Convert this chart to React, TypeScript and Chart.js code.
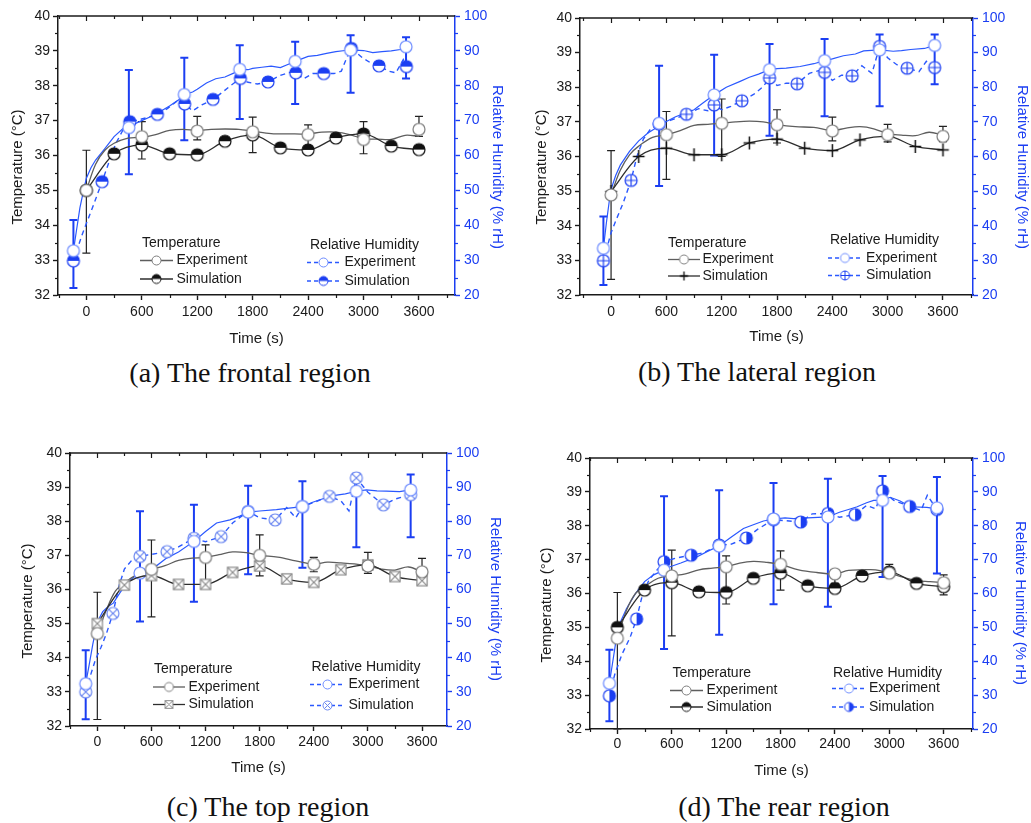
import React, { useEffect, useRef } from 'react';
import { Chart, registerables } from 'chart.js';

Chart.register(...registerables);

const SANS = '"Liberation Sans", Arimo, Arial, Helvetica, sans-serif';
const SERIF = '"Liberation Serif", "Times New Roman", Times, serif';
Chart.defaults.font.family = SANS;

const INK = '#1a1a1a';
const BLUE = '#1b3ef2';
const BLUE_LINE = '#2a58ff';
const BLUE_OPEN = '#6c8bff';
const BLUE_LIGHT = '#6a86f0';
const GRAY = '#5e5e5e';
const DARK = '#2e2e2e';

// ---------- shared axes / time bases ----------
const X_TICKS = [0, 600, 1200, 1800, 2400, 3000, 3600];
const T_TICKS = [32, 33, 34, 35, 36, 37, 38, 39, 40];
const RH_TICKS = [20, 30, 40, 50, 60, 70, 80, 90, 100];
const TEMP_EXP_X = [0, 600, 1200, 1800, 2400, 3000, 3600];
const TEMP_SIM_X = [0, 300, 600, 900, 1200, 1500, 1800, 2100, 2400, 2700, 3000, 3300, 3600];
const TEMP_TRACE_X = [0, 100, 200, 300, 450, 600, 750, 900, 1050, 1200, 1350, 1500, 1650, 1800, 2000, 2200, 2400, 2550, 2700, 2850, 3000, 3150, 3300, 3450, 3600];

// ---------- (a) frontal ----------
const A_TEMP_EXP = [35.0, 36.54, 36.7, 36.68, 36.6, 36.46, 36.75];
const A_TEMP_EXP_LO = [33.2, 35.9, 36.45, 36.08, 36.12, 36.05, 36.55];
const A_TEMP_EXP_HI = [36.15, 36.97, 37.12, 37.1, 36.88, 36.97, 37.12];
const A_TEMP_SIM = [35.0, 36.05, 36.3, 36.05, 36.02, 36.41, 36.59, 36.22, 36.16, 36.5, 36.62, 36.27, 36.17];
const A_TEMP_TRACE = [35.0, 35.75, 36.15, 36.35, 36.5, 36.52, 36.6, 36.72, 36.75, 36.72, 36.75, 36.76, 36.75, 36.7, 36.63, 36.62, 36.62, 36.67, 36.67, 36.6, 36.48, 36.47, 36.46, 36.58, 36.55];
const A_RH_EXP_X = [-140, 460, 1060, 1660, 2260, 2860, 3460];
const A_RH_EXP = [32.7, 68.0, 77.5, 84.7, 87.0, 90.2, 91.2];
const A_RH_EXP_LO = [22.0, 54.6, 64.4, 70.5, 74.8, 78.0, 82.1];
const A_RH_EXP_HI = [41.5, 84.5, 88.0, 91.6, 92.6, 94.5, 93.9];
const A_RH_SIM_X = [-140, 170, 470, 769, 1064, 1371, 1667, 1966, 2266, 2569, 2868, 3168, 3464];
const A_RH_SIM = [29.8, 52.5, 69.7, 71.8, 74.8, 76.1, 82.1, 81.1, 83.7, 83.5, 90.7, 85.7, 85.5];
const A_RH_EXP_TRACE = [[-140, 32.7], [-110, 38], [-70, 45], [-30, 50], [0, 53.5], [50, 56.5], [100, 58.7], [200, 62], [300, 65.4], [400, 67.8], [460, 68.3], [600, 70], [700, 71.2], [800, 72.6], [900, 74.2], [1000, 76], [1060, 77.5], [1150, 78.2], [1200, 79], [1300, 80.8], [1400, 82], [1500, 82.5], [1600, 83.7], [1660, 84.7], [1750, 84.6], [1800, 85], [1900, 85.3], [2000, 85.6], [2100, 85.2], [2200, 86.3], [2260, 87], [2400, 88.4], [2500, 88.7], [2600, 89.3], [2700, 89.8], [2800, 90.1], [2860, 90.3], [3000, 90.1], [3100, 89.5], [3200, 89.8], [3300, 90.0], [3400, 90.4], [3460, 91.2]];
const A_RH_SIM_TRACE = [[-140, 29.8], [-100, 33], [-50, 37], [0, 40.5], [80, 46], [170, 52.5], [250, 58.5], [320, 63.5], [400, 67.5], [470, 69.7], [560, 70.2], [650, 70.8], [769, 71.8], [880, 73.5], [1000, 76], [1064, 74.8], [1150, 72.8], [1250, 74.5], [1371, 76.1], [1480, 78.3], [1560, 80], [1667, 82.1], [1750, 81], [1850, 80.5], [1966, 81.1], [2100, 83], [2200, 83.8], [2266, 83.7], [2350, 82], [2450, 83.5], [2569, 83.5], [2680, 83.5], [2760, 84.2], [2810, 87.5], [2868, 90.7], [2990, 88], [3080, 86.5], [3168, 85.7], [3270, 84.2], [3350, 83.7], [3430, 87.5], [3464, 85.5]];

// ---------- (b) lateral ----------
const B_TEMP_EXP = [34.89, 36.63, 36.96, 36.92, 36.74, 36.63, 36.58];
const B_TEMP_EXP_LO = [32.45, 35.34, 36.0, 36.39, 36.45, 36.42, 36.43];
const B_TEMP_EXP_HI = [36.17, 37.3, 37.66, 37.35, 37.14, 36.93, 36.87];
const B_TEMP_SIM = [34.99, 36.0, 36.24, 36.05, 36.05, 36.39, 36.5, 36.24, 36.17, 36.48, 36.58, 36.29, 36.19];
const B_TEMP_TRACE = [34.9, 35.6, 36.05, 36.3, 36.55, 36.63, 36.75, 36.9, 36.93, 36.96, 37.0, 37.02, 37.0, 36.92, 36.86, 36.84, 36.75, 36.82, 36.86, 36.8, 36.66, 36.62, 36.6, 36.7, 36.62];
const B_RH_EXP_X = [-83, 521, 1118, 1719, 2316, 2913, 3510];
const B_RH_EXP = [33.5, 69.6, 77.8, 85.1, 87.7, 90.8, 92.1];
const B_RH_EXP_LO = [22.9, 51.5, 60.3, 66.0, 71.6, 74.5, 80.9];
const B_RH_EXP_HI = [42.7, 86.2, 89.4, 92.5, 93.9, 95.2, 95.2];
const B_RH_SIM_X = [-83, 217, 521, 817, 1118, 1419, 1719, 2018, 2316, 2615, 2913, 3212, 3510];
const B_RH_SIM = [29.9, 53.1, 69.4, 72.2, 74.9, 76.1, 82.7, 81.0, 84.3, 83.3, 91.8, 85.5, 85.7];
const B_RH_EXP_TRACE = [[-83, 33.5], [-50, 41], [-20, 47], [0, 50.5], [50, 54.5], [100, 57.5], [200, 61.5], [300, 64.5], [400, 66.8], [521, 68.8], [600, 70.1], [700, 71.5], [800, 72.5], [900, 73.5], [1000, 75.5], [1118, 77.8], [1250, 80], [1400, 81.7], [1500, 82.9], [1600, 83.8], [1719, 85.1], [1800, 85.4], [1900, 85.5], [2050, 86.0], [2200, 86.8], [2316, 87.7], [2400, 88.2], [2520, 89.1], [2650, 89.6], [2740, 90.5], [2913, 90.8], [3060, 90.4], [3150, 90.6], [3250, 90.9], [3400, 91.2], [3510, 92.1]];
const B_RH_SIM_TRACE = [[-83, 29.9], [-40, 34], [0, 38], [60, 42], [130, 46.5], [217, 53.1], [280, 60], [350, 65], [430, 68], [521, 69.4], [650, 70.5], [817, 72.2], [950, 73.8], [1050, 73.2], [1118, 74.9], [1200, 73.5], [1300, 74.5], [1419, 76.1], [1550, 78], [1650, 80.2], [1719, 82.7], [1800, 80.5], [1900, 81.2], [2018, 81.0], [2150, 84], [2250, 84.8], [2316, 84.3], [2400, 82], [2500, 83.5], [2615, 83.3], [2720, 86.2], [2830, 84], [2913, 91.8], [3000, 88.5], [3100, 86.5], [3212, 85.5], [3340, 84.5], [3420, 87.5], [3510, 85.7]];

// ---------- (c) top ----------
const C_TEMP_EXP = [34.71, 36.59, 36.94, 37.0, 36.74, 36.69, 36.52];
const C_TEMP_EXP_LO = [32.19, 35.2, 36.05, 36.4, 36.52, 36.47, 36.3];
const C_TEMP_EXP_HI = [35.92, 37.45, 37.31, 37.6, 36.94, 37.09, 36.91];
const C_TEMP_SIM = [35.0, 36.13, 36.41, 36.15, 36.15, 36.5, 36.69, 36.31, 36.21, 36.58, 36.72, 36.38, 36.26];
const C_TEMP_TRACE = [34.7, 35.4, 35.95, 36.2, 36.45, 36.59, 36.7, 36.85, 36.92, 36.94, 37.02, 37.1, 37.08, 37.0, 36.95, 36.84, 36.74, 36.8, 36.78, 36.75, 36.69, 36.6, 36.57, 36.66, 36.52];
const C_RH_EXP_X = [-129, 473, 1071, 1672, 2274, 2872, 3474];
const C_RH_EXP = [32.4, 64.8, 74.1, 82.7, 84.3, 88.8, 89.2];
const C_RH_EXP_LO = [22.0, 50.6, 56.4, 64.5, 66.4, 72.4, 75.3];
const C_RH_EXP_HI = [42.2, 82.9, 84.8, 90.4, 91.7, 93.9, 93.7];
const C_RH_SIM_X = [-129, 173, 473, 773, 1071, 1372, 1672, 1972, 2274, 2574, 2872, 3172, 3474];
const C_RH_SIM = [30.0, 53.0, 69.7, 71.1, 75.0, 75.5, 82.9, 80.4, 84.3, 87.3, 92.7, 84.8, 87.8];
const C_RH_EXP_TRACE = [[-129, 32.4], [-90, 38], [-50, 44], [0, 50.5], [60, 53.5], [120, 55], [177, 56], [250, 59], [330, 62], [400, 63.5], [473, 64.8], [620, 66.2], [768, 69.2], [900, 71], [1071, 74.1], [1200, 77], [1322, 79.5], [1470, 80.4], [1580, 81.5], [1672, 82.7], [1800, 83], [1986, 83.4], [2100, 83.8], [2274, 84.3], [2380, 85.5], [2467, 86.3], [2614, 87.5], [2750, 88], [2872, 88.8], [2983, 89.2], [3100, 88.9], [3205, 88.8], [3350, 88.7], [3474, 89.2]];
const C_RH_SIM_TRACE = [[-129, 30], [-80, 34.5], [-20, 39.5], [40, 43], [100, 47], [173, 53], [240, 61], [300, 66], [380, 68.5], [473, 69.7], [600, 70.3], [773, 71.1], [900, 72.5], [1071, 75], [1200, 74], [1372, 75.5], [1500, 79.5], [1600, 81.5], [1672, 82.9], [1800, 81], [1972, 80.4], [2100, 84], [2200, 81], [2274, 84.3], [2400, 85.5], [2574, 87.3], [2700, 86], [2790, 83], [2872, 92.7], [3000, 88.5], [3172, 84.8], [3300, 86.5], [3474, 87.8]];

// ---------- (d) rear ----------
const D_TEMP_EXP = [34.68, 36.52, 36.79, 36.86, 36.58, 36.6, 36.32];
const D_TEMP_EXP_LO = [32.0, 34.75, 35.69, 36.1, 36.3, 36.5, 35.96];
const D_TEMP_EXP_HI = [36.03, 37.28, 37.11, 37.26, 36.64, 36.86, 36.55];
const D_TEMP_SIM = [35.0, 36.1, 36.32, 36.05, 36.03, 36.45, 36.6, 36.23, 36.15, 36.52, 36.64, 36.3, 36.2];
const D_TEMP_TRACE = [34.68, 35.5, 36.0, 36.2, 36.45, 36.52, 36.58, 36.7, 36.75, 36.79, 36.9, 36.95, 36.92, 36.86, 36.7, 36.62, 36.58, 36.68, 36.7, 36.7, 36.6, 36.48, 36.38, 36.35, 36.32];
const D_RH_EXP_X = [-88, 515, 1123, 1723, 2323, 2926, 3526];
const D_RH_EXP = [33.5, 66.9, 74.0, 82.0, 82.6, 87.5, 85.3];
const D_RH_EXP_LO = [22.3, 43.6, 47.8, 56.8, 56.1, 64.9, 65.9];
const D_RH_EXP_HI = [43.4, 88.7, 90.5, 92.6, 93.9, 94.7, 94.4];
const D_RH_SIM_X = [-88, 212, 515, 815, 1123, 1423, 1723, 2023, 2323, 2623, 2926, 3226, 3526];
const D_RH_SIM = [29.8, 52.5, 69.4, 71.3, 74.3, 76.4, 81.8, 81.1, 83.6, 83.3, 90.3, 85.7, 84.8];
const D_RH_EXP_TRACE = [[-88, 33.5], [-50, 40], [-10, 47], [40, 52], [100, 55.5], [200, 60], [300, 63.5], [400, 65.5], [515, 66.9], [582, 67.9], [700, 69], [876, 70.8], [1000, 72.5], [1123, 74.0], [1250, 76.5], [1391, 79.2], [1500, 80.3], [1612, 81.4], [1723, 82.0], [1850, 82.3], [1943, 82.1], [2100, 82.3], [2323, 82.6], [2450, 84], [2550, 84.8], [2646, 85.6], [2750, 86.8], [2828, 87.5], [2926, 87.5], [3011, 88.4], [3120, 87.3], [3231, 85.6], [3415, 85.4], [3526, 85.0]];
const D_RH_SIM_TRACE = [[-88, 29.8], [-30, 36], [50, 42], [140, 47], [212, 52.5], [280, 60], [350, 64], [440, 67], [515, 69.4], [650, 70.5], [815, 71.3], [950, 72], [1123, 74.3], [1250, 74.5], [1423, 76.4], [1550, 79], [1723, 81.8], [1850, 81.5], [2023, 81.1], [2150, 83.5], [2323, 83.6], [2450, 82.5], [2623, 83.3], [2750, 86], [2850, 85], [2926, 90.3], [3050, 87.5], [3226, 85.7], [3350, 84.5], [3420, 89], [3526, 84.8]];

// ---------- layout (page pixels) ----------
const LW = 58;
const RW = 62;
const PT = 16;

const PANELS: any[] = [
  {
    caption: '(a) The frontal region', cap: [250, 373],
    area: { l: 58, r: 455, t: 16, b: 295 }, xRange: [-307, 3990], xLabelPad: 3.6, xTitleY: 339,
    lTitle: [18, 167], rTitle: [497, 167],
    legend: { tTitle: [142, 243], tRows: [260.5, 279], tLine: [140, 173], tLabel: 176.5, rTitle: [310, 245], rRows: [262.5, 281], rLine: [307, 340], rLabel: 344.5 },
    tSimKind: 'halfTop', tSimColor: '#111', rSimKind: 'halfTop', rSimColor: BLUE,
    tExp: A_TEMP_EXP, tExpLo: A_TEMP_EXP_LO, tExpHi: A_TEMP_EXP_HI, tSim: A_TEMP_SIM, tTrace: A_TEMP_TRACE,
    rExpX: A_RH_EXP_X, rExp: A_RH_EXP, rExpLo: A_RH_EXP_LO, rExpHi: A_RH_EXP_HI, rSimX: A_RH_SIM_X, rSim: A_RH_SIM,
    rExpTrace: A_RH_EXP_TRACE, rSimTrace: A_RH_SIM_TRACE,
  },
  {
    caption: '(b) The lateral region', cap: [757, 372],
    area: { l: 580, r: 973, t: 18, b: 295 }, xRange: [-337, 3926], xLabelPad: 3.6, xTitleY: 337,
    lTitle: [542, 167], rTitle: [1022, 167],
    legend: { tTitle: [668, 243], tRows: [259.5, 276], tLine: [668, 700], tLabel: 702.5, rTitle: [830, 240.5], rRows: [258, 275.5], rLine: [828, 862], rLabel: 866 },
    tSimKind: 'plus', tSimColor: '#111', rSimKind: 'circlePlus', rSimColor: BLUE,
    tExp: B_TEMP_EXP, tExpLo: B_TEMP_EXP_LO, tExpHi: B_TEMP_EXP_HI, tSim: B_TEMP_SIM, tTrace: B_TEMP_TRACE,
    rExpX: B_RH_EXP_X, rExp: B_RH_EXP, rExpLo: B_RH_EXP_LO, rExpHi: B_RH_EXP_HI, rSimX: B_RH_SIM_X, rSim: B_RH_SIM,
    rExpTrace: B_RH_EXP_TRACE, rSimTrace: B_RH_SIM_TRACE,
  },
  {
    caption: '(c) The top region', cap: [268, 807],
    area: { l: 70, r: 447, t: 453, b: 726 }, xRange: [-303, 3877], xLabelPad: 2.6, xTitleY: 768,
    lTitle: [28, 601], rTitle: [495, 599],
    legend: { tTitle: [154, 669], tRows: [687, 704.5], tLine: [153, 185], tLabel: 188.5, rTitle: [311.5, 667], rRows: [684.5, 705.5], rLine: [310, 345], rLabel: 348.5 },
    tSimKind: 'squareX', tSimColor: '#8a8a8a', rSimKind: 'circleX', rSimColor: BLUE_LIGHT,
    tExp: C_TEMP_EXP, tExpLo: C_TEMP_EXP_LO, tExpHi: C_TEMP_EXP_HI, tSim: C_TEMP_SIM, tTrace: C_TEMP_TRACE,
    rExpX: C_RH_EXP_X, rExp: C_RH_EXP, rExpLo: C_RH_EXP_LO, rExpHi: C_RH_EXP_HI, rSimX: C_RH_SIM_X, rSim: C_RH_SIM,
    rExpTrace: C_RH_EXP_TRACE, rSimTrace: C_RH_SIM_TRACE,
  },
  {
    caption: '(d) The rear region', cap: [784, 807],
    area: { l: 590, r: 973, t: 458, b: 729 }, xRange: [-302, 3924], xLabelPad: 1.6, xTitleY: 771,
    lTitle: [547, 605], rTitle: [1020, 603],
    legend: { tTitle: [672.5, 673.5], tRows: [690.5, 707], tLine: [670, 703], tLabel: 706.5, rTitle: [833, 673], rRows: [688.5, 707], rLine: [832, 866], rLabel: 869 },
    tSimKind: 'halfTop', tSimColor: '#111', rSimKind: 'halfRight', rSimColor: BLUE,
    tExp: D_TEMP_EXP, tExpLo: D_TEMP_EXP_LO, tExpHi: D_TEMP_EXP_HI, tSim: D_TEMP_SIM, tTrace: D_TEMP_TRACE,
    rExpX: D_RH_EXP_X, rExp: D_RH_EXP, rExpLo: D_RH_EXP_LO, rExpHi: D_RH_EXP_HI, rSimX: D_RH_SIM_X, rSim: D_RH_SIM,
    rExpTrace: D_RH_EXP_TRACE, rSimTrace: D_RH_SIM_TRACE,
  },
];

function geometry(p: any) {
  const bh = p.xTitleY - p.area.b + 14;
  return {
    left: p.area.l - LW,
    top: p.area.t - PT,
    width: p.area.r - p.area.l + LW + RW,
    height: p.area.b - p.area.t + PT + bh,
    bh,
  };
}

function makeMarker(kind: string, color: string, r: number, lw: number): HTMLCanvasElement {
  const size = Math.ceil(2 * r + 4);
  const c = document.createElement('canvas');
  c.width = size;
  c.height = size;
  const g = c.getContext('2d') as CanvasRenderingContext2D;
  const cx = size / 2;
  const cy = size / 2;
  g.lineWidth = lw;
  g.strokeStyle = color;
  const circle = () => {
    g.beginPath();
    g.arc(cx, cy, r, 0, Math.PI * 2);
  };
  const whiteCircle = () => {
    circle();
    g.fillStyle = '#fff';
    g.fill();
  };
  if (kind === 'open') {
    whiteCircle();
    g.stroke();
  } else if (kind === 'halfTop' || kind === 'halfRight') {
    whiteCircle();
    g.beginPath();
    if (kind === 'halfTop') g.arc(cx, cy, r, Math.PI, Math.PI * 2);
    else g.arc(cx, cy, r, -Math.PI / 2, Math.PI / 2);
    g.closePath();
    g.fillStyle = color;
    g.fill();
    circle();
    g.stroke();
  } else if (kind === 'plus') {
    g.lineWidth = lw + 0.3;
    g.beginPath();
    g.moveTo(cx - r * 0.9, cy);
    g.lineTo(cx + r * 0.9, cy);
    g.moveTo(cx, cy - r);
    g.lineTo(cx, cy + r);
    g.stroke();
  } else if (kind === 'circlePlus') {
    whiteCircle();
    g.stroke();
    g.beginPath();
    g.moveTo(cx - r, cy);
    g.lineTo(cx + r, cy);
    g.moveTo(cx, cy - r);
    g.lineTo(cx, cy + r);
    g.stroke();
  } else if (kind === 'squareX') {
    const s = r * 0.85;
    g.fillStyle = '#fff';
    g.fillRect(cx - s, cy - s, 2 * s, 2 * s);
    g.strokeRect(cx - s, cy - s, 2 * s, 2 * s);
    g.beginPath();
    g.moveTo(cx - s, cy - s);
    g.lineTo(cx + s, cy + s);
    g.moveTo(cx + s, cy - s);
    g.lineTo(cx - s, cy + s);
    g.stroke();
  } else if (kind === 'circleX') {
    whiteCircle();
    g.stroke();
    const s = r * 0.7;
    g.beginPath();
    g.moveTo(cx - s, cy - s);
    g.lineTo(cx + s, cy + s);
    g.moveTo(cx + s, cy - s);
    g.lineTo(cx - s, cy + s);
    g.stroke();
  }
  return c;
}

function buildChart(canvas: HTMLCanvasElement, p: any, geo: any) {
  const pts = (xs: number[], ys: number[]) => xs.map((x, i) => ({ x, y: ys[i] }));
  const pairs = (arr: number[][]) => arr.map(([x, y]) => ({ x, y }));
  const tSimR = p.tSimKind === 'plus' ? 6.5 : 6;
  const mk = {
    tExp: makeMarker('open', '#7c7c7c', 6, 1.2),
    tSim: makeMarker(p.tSimKind, p.tSimColor, tSimR, 1.2),
    rExp: makeMarker('open', BLUE_OPEN, 6, 1.2),
    rSim: makeMarker(p.rSimKind, p.rSimColor, 6, 1.2),
  };
  const lg = {
    tExp: makeMarker('open', '#7c7c7c', 4.5, 1),
    tSim: makeMarker(p.tSimKind, p.tSimColor, 4.5, 1),
    rExp: makeMarker('open', BLUE_OPEN, 4.5, 1),
    rSim: makeMarker(p.rSimKind, p.rSimColor, 4.5, 1),
  };
  const ox = geo.left;
  const oy = geo.top;

  const deco = {
    id: 'deco',
    beforeDatasetsDraw(chart: any) {
      const ctx = chart.ctx;
      chart.data.datasets.forEach((ds: any) => {
        if (!ds.errLo) return;
        const xs = chart.scales.x;
        const ys = chart.scales[ds.yAxisID];
        ctx.save();
        ctx.strokeStyle = ds.errColor;
        ctx.lineWidth = ds.errWidth;
        ds.data.forEach((pt: any, j: number) => {
          const px = xs.getPixelForValue(pt.x);
          const lo = ys.getPixelForValue(ds.errLo[j]);
          const hi = ys.getPixelForValue(ds.errHi[j]);
          ctx.beginPath();
          ctx.moveTo(px, lo);
          ctx.lineTo(px, hi);
          ctx.moveTo(px - 4, lo);
          ctx.lineTo(px + 4, lo);
          ctx.moveTo(px - 4, hi);
          ctx.lineTo(px + 4, hi);
          ctx.stroke();
        });
        ctx.restore();
      });
    },
    afterDraw(chart: any) {
      const ctx = chart.ctx;
      const { left, right, top, bottom } = chart.chartArea;
      const xs = chart.scales.x;
      const yl = chart.scales.y;
      const yr = chart.scales.y1;
      ctx.save();
      ctx.strokeStyle = INK;
      ctx.lineWidth = 1.5;
      ctx.beginPath();
      ctx.moveTo(left, top);
      ctx.lineTo(right, top);
      ctx.stroke();
      ctx.lineWidth = 1.2;
      for (let v = Math.ceil(p.xRange[0] / 300) * 300; v <= p.xRange[1]; v += 300) {
        const px = Math.round(xs.getPixelForValue(v)) + 0.5;
        const major = v % 600 === 0;
        ctx.beginPath();
        ctx.moveTo(px, top);
        ctx.lineTo(px, top + (major ? 5 : 3));
        if (!major) {
          ctx.moveTo(px, bottom);
          ctx.lineTo(px, bottom + 3);
        }
        ctx.stroke();
      }
      for (let v = 32.5; v < 40; v += 1) {
        const py = Math.round(yl.getPixelForValue(v)) + 0.5;
        ctx.beginPath();
        ctx.moveTo(left, py);
        ctx.lineTo(left - 3, py);
        ctx.stroke();
      }
      ctx.strokeStyle = BLUE;
      for (let v = 25; v < 100; v += 10) {
        const py = Math.round(yr.getPixelForValue(v)) + 0.5;
        ctx.beginPath();
        ctx.moveTo(right, py);
        ctx.lineTo(right + 3, py);
        ctx.stroke();
      }
      ctx.font = `15px ${SANS}`;
      ctx.textAlign = 'center';
      ctx.textBaseline = 'middle';
      ctx.save();
      ctx.translate(p.lTitle[0] - ox, p.lTitle[1] - oy);
      ctx.rotate(-Math.PI / 2);
      ctx.fillStyle = INK;
      ctx.fillText('Temperature (°C)', 0, 0);
      ctx.restore();
      ctx.save();
      ctx.translate(p.rTitle[0] - ox, p.rTitle[1] - oy);
      ctx.rotate(Math.PI / 2);
      ctx.fillStyle = BLUE;
      ctx.fillText('Relative Humidity (% rH)', 0, 0);
      ctx.restore();
      const L = p.legend;
      ctx.font = `14px ${SANS}`;
      ctx.textAlign = 'left';
      ctx.textBaseline = 'middle';
      ctx.fillStyle = INK;
      ctx.fillText('Temperature', L.tTitle[0] - ox, L.tTitle[1] - oy);
      ctx.fillText('Relative Humidity', L.rTitle[0] - ox, L.rTitle[1] - oy);
      const labels = ['Experiment', 'Simulation'];
      const tImgs = [lg.tExp, lg.tSim];
      const rImgs = [lg.rExp, lg.rSim];
      const tCols = [GRAY, DARK];
      for (let k = 0; k < 2; k++) {
        const ty = L.tRows[k] - oy;
        ctx.strokeStyle = tCols[k];
        ctx.lineWidth = 1.3;
        ctx.setLineDash([]);
        ctx.beginPath();
        ctx.moveTo(L.tLine[0] - ox, ty);
        ctx.lineTo(L.tLine[1] - ox, ty);
        ctx.stroke();
        const tcx = (L.tLine[0] + L.tLine[1]) / 2 - ox;
        ctx.drawImage(tImgs[k], tcx - tImgs[k].width / 2, ty - tImgs[k].height / 2);
        ctx.fillStyle = INK;
        ctx.fillText(labels[k], L.tLabel - ox, ty);

        const ry = L.rRows[k] - oy;
        ctx.strokeStyle = BLUE_LINE;
        ctx.lineWidth = 1.4;
        ctx.setLineDash([4, 3]);
        ctx.beginPath();
        ctx.moveTo(L.rLine[0] - ox, ry);
        ctx.lineTo(L.rLine[1] - ox, ry);
        ctx.stroke();
        ctx.setLineDash([]);
        const rcx = (L.rLine[0] + L.rLine[1]) / 2 - ox;
        ctx.drawImage(rImgs[k], rcx - rImgs[k].width / 2, ry - rImgs[k].height / 2);
        ctx.fillStyle = INK;
        ctx.fillText(labels[k], L.rLabel - ox, ry);
      }
      ctx.restore();
    },
  };

  const tickFont = { size: 14, family: SANS };
  const fmt = (v: any) => String(v);

  return new Chart(canvas, {
    type: 'line',
    data: {
      datasets: [
        {
          label: 'Temperature Experiment',
          data: pts(TEMP_EXP_X, p.tExp),
          yAxisID: 'y',
          showLine: false,
          pointStyle: mk.tExp,
          pointRadius: 6,
          errLo: p.tExpLo, errHi: p.tExpHi, errColor: '#222', errWidth: 1.2,
        } as any,
        {
          label: 'Temperature Simulation',
          data: pts(TEMP_SIM_X, p.tSim),
          yAxisID: 'y',
          showLine: true,
          borderColor: DARK,
          borderWidth: 1.3,
          cubicInterpolationMode: 'monotone',
          pointStyle: mk.tSim,
          pointRadius: 6,
        },
        {
          label: 'RH Experiment',
          data: pts(p.rExpX, p.rExp),
          yAxisID: 'y1',
          showLine: false,
          pointStyle: mk.rExp,
          pointRadius: 6,
          errLo: p.rExpLo, errHi: p.rExpHi, errColor: BLUE, errWidth: 2,
        } as any,
        {
          label: 'RH Simulation',
          data: pts(p.rSimX, p.rSim),
          yAxisID: 'y1',
          showLine: false,
          pointStyle: mk.rSim,
          pointRadius: 6,
        },
        {
          label: 'Temperature Experiment trace',
          data: pts(TEMP_TRACE_X, p.tTrace),
          yAxisID: 'y',
          borderColor: GRAY,
          borderWidth: 1.3,
          pointRadius: 0,
          tension: 0.35,
        },
        {
          label: 'RH Experiment trace',
          data: pairs(p.rExpTrace),
          yAxisID: 'y1',
          borderColor: BLUE_LINE,
          borderWidth: 1.2,
          pointRadius: 0,
          tension: 0,
        },
        {
          label: 'RH Simulation trace',
          data: pairs(p.rSimTrace),
          yAxisID: 'y1',
          borderColor: BLUE_LINE,
          borderWidth: 1.4,
          borderDash: [5, 4],
          pointRadius: 0,
          tension: 0,
        },
      ],
    },
    options: {
      responsive: false,
      animation: false,
      events: [],
      layout: { padding: { left: 0, right: 0, top: PT, bottom: 0 } },
      plugins: { legend: { display: false }, tooltip: { enabled: false } },
      scales: {
        x: {
          type: 'linear',
          min: p.xRange[0],
          max: p.xRange[1],
          afterBuildTicks: (s: any) => { s.ticks = X_TICKS.map((v) => ({ value: v })); },
          afterFit: (s: any) => { s.height = geo.bh; },
          ticks: { color: INK, font: tickFont, padding: p.xLabelPad, maxRotation: 0, autoSkip: false, callback: fmt },
          grid: { display: true, drawOnChartArea: false, drawTicks: true, tickLength: 5, tickColor: INK, tickWidth: 1.4 },
          border: { display: true, color: INK, width: 1.5 },
          title: { display: true, text: 'Time (s)', color: INK, font: { size: 15, family: SANS }, padding: { top: 0, bottom: 5.6 } },
        },
        y: {
          type: 'linear',
          position: 'left',
          min: 32,
          max: 40,
          afterBuildTicks: (s: any) => { s.ticks = T_TICKS.map((v) => ({ value: v })); },
          afterFit: (s: any) => { s.width = LW; },
          ticks: { color: INK, font: tickFont, padding: 3, callback: fmt },
          grid: { display: true, drawOnChartArea: false, drawTicks: true, tickLength: 5, tickColor: INK, tickWidth: 1.4 },
          border: { display: true, color: INK, width: 1.5 },
        },
        y1: {
          type: 'linear',
          position: 'right',
          min: 20,
          max: 100,
          afterBuildTicks: (s: any) => { s.ticks = RH_TICKS.map((v) => ({ value: v })); },
          afterFit: (s: any) => { s.width = RW; },
          ticks: { color: BLUE, font: tickFont, padding: 4, callback: fmt },
          grid: { display: true, drawOnChartArea: false, drawTicks: true, tickLength: 5, tickColor: BLUE, tickWidth: 1.4 },
          border: { display: true, color: BLUE, width: 1.5 },
        },
      },
    } as any,
    plugins: [deco],
  });
}

function Panel({ p }: { p: any }) {
  const ref = useRef<HTMLCanvasElement>(null);
  const geo = geometry(p);
  useEffect(() => {
    const chart = buildChart(ref.current as HTMLCanvasElement, p, geo);
    return () => chart.destroy();
  }, []);
  return (
    <>
      <div style={{ position: 'absolute', left: geo.left, top: geo.top, width: geo.width, height: geo.height }}>
        <canvas ref={ref} width={geo.width} height={geo.height} style={{ display: 'block' }} />
      </div>
      <div
        style={{
          position: 'absolute',
          left: p.cap[0],
          top: p.cap[1],
          transform: 'translate(-50%, -50%)',
          fontFamily: SERIF,
          fontSize: 28,
          lineHeight: 1,
          whiteSpace: 'nowrap',
          color: '#111',
        }}
      >
        {p.caption}
      </div>
    </>
  );
}

export default function App() {
  return (
    <div style={{ position: 'absolute', left: 0, top: 0, width: 1031, height: 823, overflow: 'hidden', background: '#fff' }}>
      {PANELS.map((p, i) => (
        <Panel key={i} p={p} />
      ))}
    </div>
  );
}
